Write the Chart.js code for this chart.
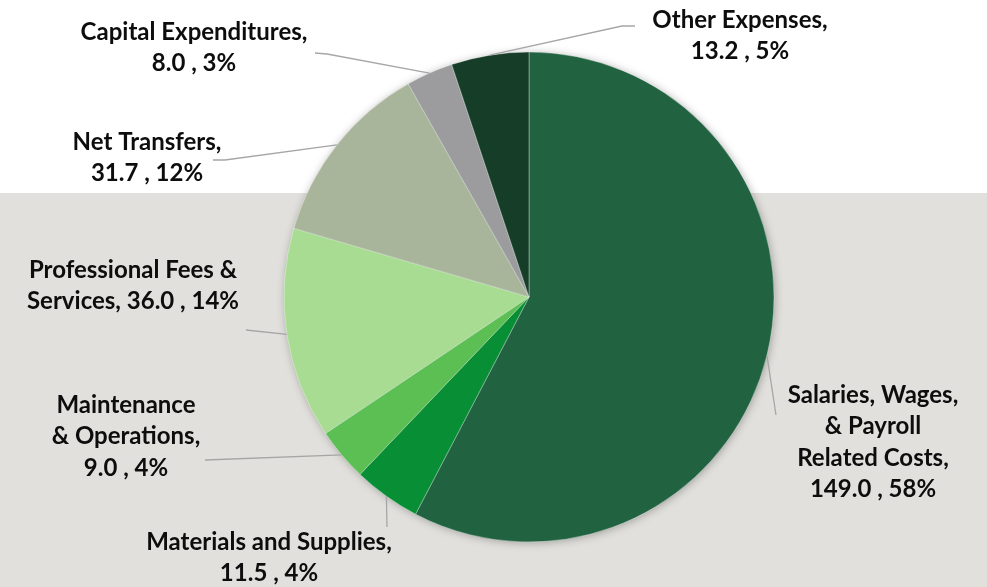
<!DOCTYPE html>
<html>
<head>
<meta charset="utf-8">
<script src="https://cdn.jsdelivr.net/npm/chart.js@4/dist/chart.umd.min.js"></script>
<style>
html,body{margin:0;padding:0;background:#fff;}
#wrap{width:987px;height:587px;position:relative;}
</style>
</head>
<body>
<div id="wrap"><canvas id="c" width="987" height="587"></canvas></div>
<script>
// ---- data ----
const categories = [
  "Salaries, Wages, & Payroll Related Costs",
  "Materials and Supplies",
  "Maintenance & Operations",
  "Professional Fees & Services",
  "Net Transfers",
  "Capital Expenditures",
  "Other Expenses"
];
const values = [149.0, 11.5, 9.0, 36.0, 31.7, 8.0, 13.2];
const percentLabels = ["58%", "4%", "4%", "14%", "12%", "3%", "5%"];
const labelLines = [
  ["Salaries, Wages,", "& Payroll", "Related Costs,", "149.0 , 58%"],
  ["Materials and Supplies,", "11.5 , 4%"],
  ["Maintenance", "& Operations,", "9.0 , 4%"],
  ["Professional Fees &", "Services, 36.0 , 14%"],
  ["Net Transfers,", "31.7 , 12%"],
  ["Capital Expenditures,", "8.0 , 3%"],
  ["Other Expenses,", "13.2 , 5%"]
];

// ---- styles / layout (not data) ----
const colors = ["#216240", "#088f36", "#5cbf54", "#a8dc92", "#a9b59a", "#9c9c9e", "#163d28"];
const labelLayout = [
  {x: 873, y: 395, elbow: [776, 415], end: null},
  {x: 269, y: 542, elbow: [387, 527], end: null},
  {x: 126, y: 405, elbow: [205, 460], end: null},
  {x: 133, y: 270, elbow: [246, 330], end: null},
  {x: 147, y: 142, elbow: [225, 160], end: [213, 160]},
  {x: 194, y: 32,  elbow: [327, 54],  end: [315, 53]},
  {x: 740, y: 20,  elbow: [622, 26],  end: [635, 26]}
];
const LINE_H = 31.5;
const FONT = "bold 24px Lato";

const bgPlugin = {
  id: 'bg',
  beforeDraw(chart) {
    const ctx = chart.ctx;
    ctx.save();
    ctx.fillStyle = '#ffffff';
    ctx.fillRect(0, 0, chart.width, chart.height);
    ctx.fillStyle = '#e1e0dc';
    ctx.fillRect(0, 193, chart.width, chart.height - 193);
    ctx.restore();
  },
  beforeDatasetsDraw(chart) {
    const arc = chart.getDatasetMeta(0).data[0];
    if (!arc) return;
    const ctx = chart.ctx;
    ctx.save();
    ctx.shadowColor = 'rgba(0,0,0,0.35)';
    ctx.shadowBlur = 10;
    ctx.shadowOffsetX = 1;
    ctx.shadowOffsetY = 1;
    ctx.fillStyle = '#216240';
    ctx.beginPath();
    ctx.arc(arc.x, arc.y, arc.outerRadius - 1, 0, Math.PI * 2);
    ctx.fill();
    ctx.restore();
  }
};

const labelPlugin = {
  id: 'labels',
  afterDatasetsDraw(chart) {
    const ctx = chart.ctx;
    const meta = chart.getDatasetMeta(0);
    ctx.save();
    meta.data.forEach((arc, i) => {
      const L = labelLayout[i];
      const mid = (arc.startAngle + arc.endAngle) / 2;
      const r = arc.outerRadius;
      const px = arc.x + Math.cos(mid) * r;
      const py = arc.y + Math.sin(mid) * r;
      ctx.strokeStyle = '#a6a6a6';
      ctx.lineWidth = 1.3;
      ctx.beginPath();
      ctx.moveTo(px, py);
      ctx.lineTo(L.elbow[0], L.elbow[1]);
      if (L.end) ctx.lineTo(L.end[0], L.end[1]);
      ctx.stroke();
      ctx.fillStyle = '#0d0d0d';
      ctx.font = FONT;
      ctx.textAlign = 'center';
      ctx.textBaseline = 'middle';
      labelLines[i].forEach((t, k) => {
        ctx.fillText(t, L.x, L.y + k * LINE_H);
      });
    });
    ctx.restore();
  }
};

new Chart(document.getElementById('c'), {
  type: 'pie',
  data: {
    labels: categories,
    datasets: [{
      data: values,
      backgroundColor: colors,
      borderColor: 'rgba(255,255,255,0.35)',
      borderWidth: 1,
      hoverOffset: 0,
      radius: 245
    }]
  },
  options: {
    responsive: false,
    animation: false,
    layout: {padding: {left: 71, right: 0, top: 7, bottom: 0}},
    plugins: {legend: {display: false}, tooltip: {enabled: false}},
    events: []
  },
  plugins: [bgPlugin, labelPlugin]
});
</script>
</body>
</html>
